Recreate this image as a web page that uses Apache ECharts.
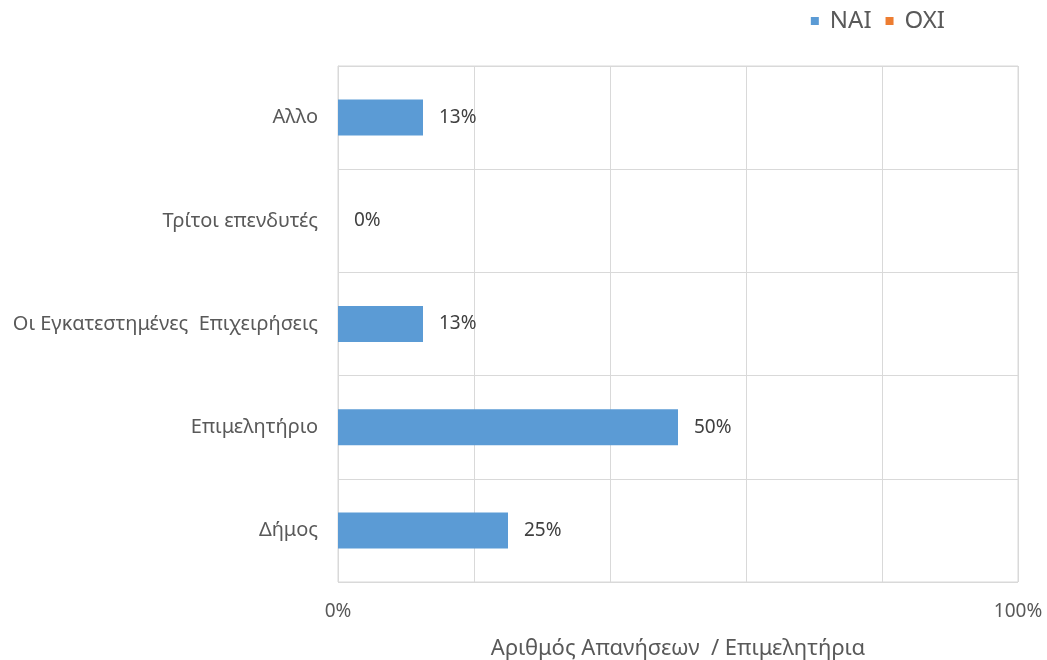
<!DOCTYPE html>
<html>
<head>
<meta charset="utf-8">
<script src="https://cdn.jsdelivr.net/npm/echarts@6/dist/echarts.min.js"></script>
<style>html,body{margin:0;padding:0;background:#fff}#c{width:1047px;height:660px}</style>
</head>
<body>
<div id="c"></div>
<script>
const categories = ['Δήμος', 'Επιμελητήριο', 'Οι Εγκατεστημένες  Επιχειρήσεις', 'Τρίτοι επενδυτές', 'Αλλο'];
const naiValues = [25, 50, 12.5, 0, 12.5];
const oxiValues = [null, null, null, null, null];
const seriesNames = ['NAI', 'OXI'];
const xAxisTitle = 'Αριθμός Απανήσεων  / Επιμελητήρια';

const FONT = '"Noto Sans", "Open Sans", sans-serif';
const chart = echarts.init(document.getElementById('c'), null, {renderer: 'canvas'});
chart.setOption({
  animation: false,
  textStyle: {fontFamily: FONT},
  color: ['#5b9bd5', '#ed7d31'],
  legend: {
    data: seriesNames,
    right: 97, top: 4,
    icon: 'rect', itemWidth: 8, itemHeight: 8, itemGap: 14,
    textStyle: {fontSize: 24, color: '#595959', fontFamily: FONT, padding: [0, 0, 0, 6]}
  },
  grid: {left: 338, right: 29, top: 66, bottom: 78, containLabel: false, outerBoundsMode: 'none',
    show: true, borderColor: '#d9d9d9', borderWidth: 1},
  xAxis: {
    type: 'value', min: 0, max: 100, interval: 20,
    name: xAxisTitle, nameLocation: 'middle', nameGap: 56,
    nameTextStyle: {fontSize: 22, color: '#595959', fontFamily: FONT},
    axisLine: {show: false}, axisTick: {show: false},
    axisLabel: {
      fontSize: 19, color: '#595959', margin: 20, fontFamily: FONT,
      formatter: v => (v === 0 || v === 100) ? v + '%' : ''
    },
    splitLine: {show: true, lineStyle: {color: '#d9d9d9', width: 1}}
  },
  yAxis: {
    type: 'category', data: categories,
    axisLine: {show: true, lineStyle: {color: '#d9d9d9'}},
    axisTick: {show: false},
    axisLabel: {fontSize: 20, color: '#595959', margin: 20, fontFamily: FONT},
    splitLine: {show: true, lineStyle: {color: '#d9d9d9', width: 1}}
  },
  series: [
    {
      name: seriesNames[0], type: 'bar', data: naiValues, barWidth: 36, barGap: '-100%',
      label: {show: true, position: 'right', distance: 16, fontSize: 19, color: '#404040', fontFamily: FONT,
        formatter: p => Math.round(p.value) + '%'}
    },
    {
      name: seriesNames[1], type: 'bar', data: oxiValues, barWidth: 36
    }
  ]
});
</script>
</body>
</html>
